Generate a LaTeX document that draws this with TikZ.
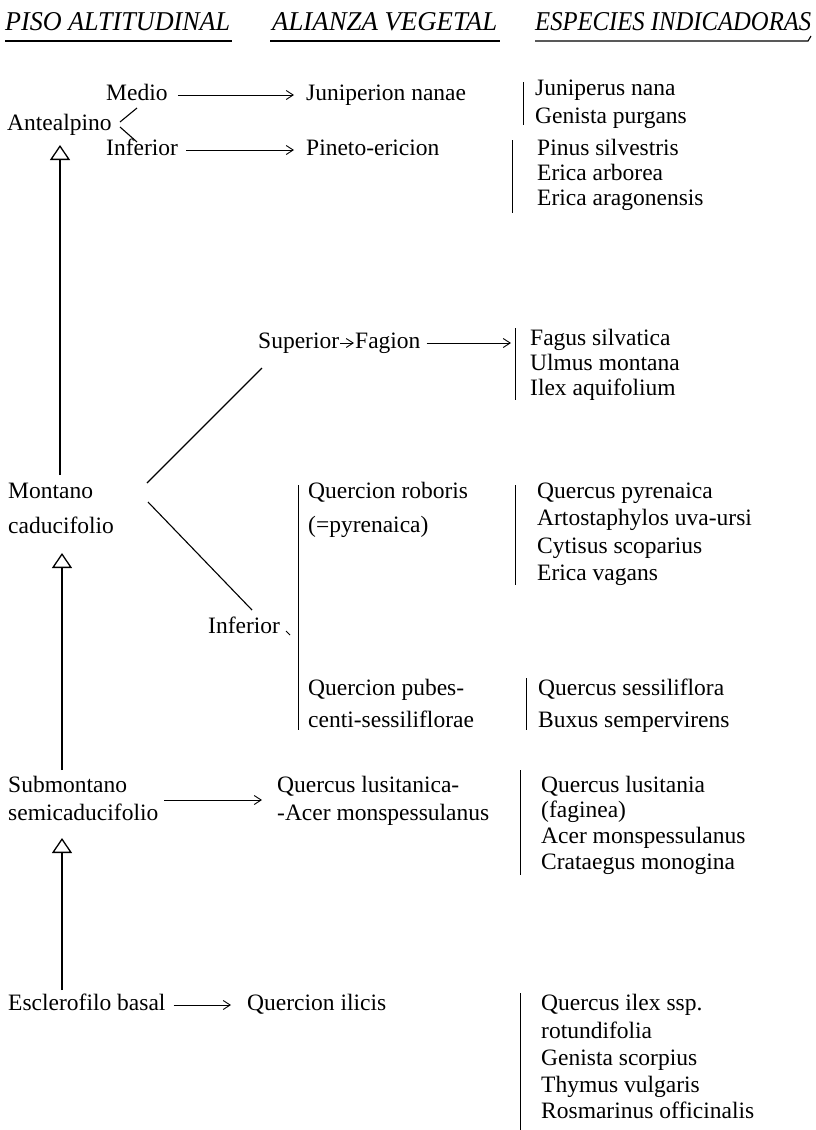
\documentclass[tikz,border=0pt]{standalone}
\usepackage{fontspec}
\setmainfont{Liberation Serif}
\usetikzlibrary{arrows.meta,calc}
\newcommand\hdtext[2]{\resizebox{#1}{18pt}{\itshape #2}}
\begin{document}
\begin{tikzpicture}[x=1pt,y=-1pt,
  txt/.style={anchor=west,inner sep=0pt,font=\fontsize{23.5}{26}\selectfont,text height=16pt,text depth=5pt},
  hdr/.style={anchor=base west,inner sep=0pt,font=\fontsize{26}{28}\selectfont},
  arr/.style={line width=0.9pt,-{Straight Barb[length=7pt,width=9pt]}},
  tri/.style={line width=1.1pt,-{Triangle[open,length=15pt,width=20pt,line width=1.3pt]}},
  bar/.style={line width=1pt},
  ln/.style={line width=1.1pt}]
\useasboundingbox (0,0) rectangle (816,1130);
% headers
\node[hdr] (h1) at (5,30) {\hdtext{225pt}{PISO ALTITUDINAL}};
\node[hdr] (h2) at (272,30) {\hdtext{225pt}{ALIANZA VEGETAL}};
\node[hdr] (h3) at (535,30) {\hdtext{276pt}{ESPECIES INDICADORAS}};
\draw[ln] (5,41) -- (232,41);
\draw[ln] (270,41) -- (500,41);
\draw[ln] (535,41) -- (808,41) -- (811,36);
% Antealpino
\node[txt] (medio) at (106,95) {Medio};
\node[txt] (junion) at (306,95) {Juniperion nanae};
\draw[arr,shorten <=10pt,shorten >=12pt] (medio) -- (junion);
\node[txt] (ante) at (7,125) {Antealpino};
\coordinate (bu0) at (137,108); \coordinate (bu1) at (120,122);
\coordinate (bl0) at (120,127); \coordinate (bl1) at (137,142);
\draw[ln] (bu0) -- (bu1);
\draw[ln] (bl0) -- (bl1);
\node[txt] (infa) at (106,150) {Inferior};
\node[txt] (pineto) at (306,150) {Pineto-ericion};
\draw[arr,shorten <=8pt,shorten >=12pt] (infa) -- (pineto);
\node[txt] (s1) at (535,90) {Juniperus nana};
\node[txt] (s2) at (535,118) {Genista purgans};
\draw[bar] (523,82) -- (523,125);
\node[txt] (s3) at (537,150) {Pinus silvestris};
\node[txt] (s4) at (537,175) {Erica arborea};
\node[txt] (s5) at (537,200) {Erica aragonensis};
\draw[bar] (512,140) -- (512,213);
\coordinate (a1) at (60,475); \coordinate (a2) at (60,145);
\draw[tri] (a1) -- (a2);
% Montano
\node[txt] (sup) at (258,343) {Superior};
\node[txt] (fagion) at (355,343) {Fagion};
\draw[arr,shorten <=1pt,shorten >=1pt] (sup) -- (fagion);
\coordinate (fbar) at (511,343);
\draw[arr,shorten <=6pt] (fagion) -- (fbar);
\node[txt] (s6) at (530,340) {Fagus silvatica};
\node[txt] (s7) at (530,365) {Ulmus montana};
\node[txt] (s8) at (530,390) {Ilex aquifolium};
\draw[bar] (515,328) -- (515,400);
\node[txt] (mont) at (8,493) {Montano};
\node[txt] (cadu) at (8,528) {caducifolio};
\coordinate (d0) at (147,483); \coordinate (d1) at (262,368);
\coordinate (e0) at (148,502); \coordinate (e1) at (252,610);
\draw[ln] (d0) -- (d1);
\draw[ln] (e0) -- (e1);
\node[txt] (infb) at (208,628) {Inferior};
\draw[line width=0.8pt] (286,631) -- (290,635);
\draw[bar] (298,485) -- (298,730);
\node[txt] (qrob) at (308,493) {Quercion roboris};
\node[txt] (qpyr) at (308,527) {(=pyrenaica)};
\node[txt] (qpub) at (308,690) {Quercion pubes-};
\node[txt] (qcen) at (308,722) {centi-sessiliflorae};
\node[txt] (s9) at (537,493) {Quercus pyrenaica};
\node[txt] (s10) at (537,520) {Artostaphylos uva-ursi};
\node[txt] (s11) at (537,548) {Cytisus scoparius};
\node[txt] (s12) at (537,575) {Erica vagans};
\draw[bar] (515,485) -- (515,585);
\node[txt] (s13) at (538,690) {Quercus sessiliflora};
\node[txt] (s14) at (538,722) {Buxus sempervirens};
\draw[bar] (526,678) -- (526,730);
\coordinate (b1) at (62,770); \coordinate (b2) at (62,553);
\draw[tri] (b1) -- (b2);
% Submontano
\node[txt] (sub) at (8,787) {Submontano};
\node[txt] (semi) at (8,815) {semicaducifolio};
\coordinate (c0) at (164,800); \coordinate (c1) at (262,800);
\draw[arr] (c0) -- (c1);
\node[txt] (qlus) at (277,787) {Quercus lusitanica-};
\node[txt] (acer) at (277,815) {-Acer monspessulanus};
\node[txt] (s15) at (541,787) {Quercus lusitania};
\node[txt] (s16) at (541,812) {(faginea)};
\node[txt] (s17) at (541,838) {Acer monspessulanus};
\node[txt] (s18) at (541,864) {Crataegus monogina};
\draw[bar] (520,770) -- (520,875);
\coordinate (g1) at (62,990); \coordinate (g2) at (62,838);
\draw[tri] (g1) -- (g2);
% Esclerofilo
\node[txt] (escl) at (8,1005) {Esclerofilo basal};
\node[txt] (qili) at (247,1005) {Quercion ilicis};
\draw[arr,shorten <=8pt,shorten >=16pt] (escl) -- (qili);
\node[txt] (s19) at (541,1005) {Quercus ilex ssp.};
\node[txt] (s20) at (541,1033) {rotundifolia};
\node[txt] (s21) at (541,1060) {Genista scorpius};
\node[txt] (s22) at (541,1087) {Thymus vulgaris};
\node[txt] (s23) at (541,1113) {Rosmarinus officinalis};
\draw[bar] (520,993) -- (520,1130);
\end{tikzpicture}
\end{document}
